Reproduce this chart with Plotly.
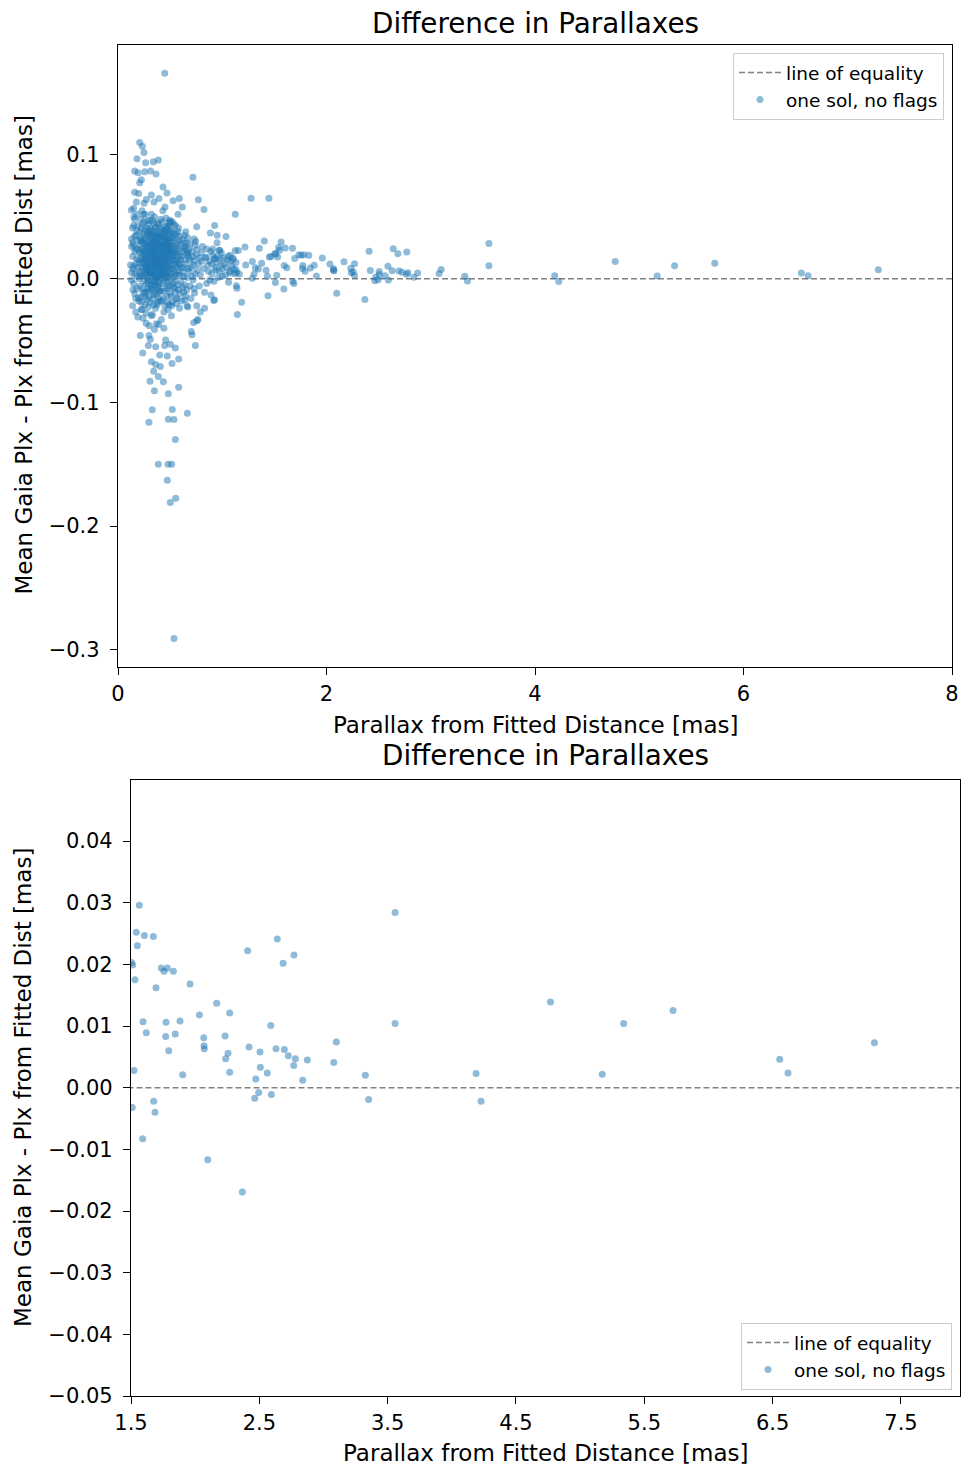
import plotly.graph_objects as go

# ---------------- data ----------------
# points with parallax >= 1.5 mas (visible in both panels)
far_points = [
    (1.565, 0.0296), (1.541, 0.0252), (1.604, 0.0247), (1.674, 0.0245), (1.549, 0.0230),
    (1.505, 0.0203), (1.513, 0.0199), (1.531, 0.0175), (1.736, 0.0194), (1.757, 0.0189),
    (1.783, 0.0194), (1.830, 0.0189), (1.695, 0.0162), (1.960, 0.0168), (2.409, 0.0222),
    (2.640, 0.0241), (2.770, 0.0215), (2.685, 0.0202), (2.168, 0.0137), (2.033, 0.0118),
    (2.269, 0.0121), (1.594, 0.0107), (1.773, 0.0106), (1.882, 0.0108), (1.619, 0.0089),
    (1.770, 0.0083), (1.845, 0.0087), (1.794, 0.0060), (2.067, 0.0081), (2.069, 0.0068),
    (2.071, 0.0063), (2.589, 0.0101), (2.233, 0.0084), (2.256, 0.0056), (2.238, 0.0047),
    (2.269, 0.0025), (2.420, 0.0066), (2.505, 0.0058), (2.508, 0.0033), (2.562, 0.0024),
    (2.472, 0.0014), (2.630, 0.0063), (2.695, 0.0062), (2.726, 0.0052), (2.781, 0.0047),
    (2.768, 0.0036), (2.874, 0.0045), (2.838, 0.0012), (3.100, 0.0074), (3.080, 0.0041),
    (3.326, 0.0020), (3.352, -0.0019), (3.558, 0.0284), (3.558, 0.0104), (4.189, 0.0023),
    (4.228, -0.0022), (1.523, 0.0028), (1.903, 0.0021), (1.510, -0.0032), (1.677, -0.0022),
    (1.687, -0.0040), (1.591, -0.0083), (2.098, -0.0117), (2.368, -0.0169), (2.464, -0.0017),
    (2.495, -0.0008), (2.594, -0.0011), (4.769, 0.0139), (5.172, 0.0022), (5.339, 0.0104),
    (5.724, 0.0125), (6.555, 0.0046), (6.620, 0.0024), (7.293, 0.0073),
]

# upper tail of the cluster
upper_points = [
    (0.448, 0.166), (0.208, 0.110), (0.233, 0.107), (0.249, 0.102), (0.182, 0.097),
    (0.387, 0.096), (0.339, 0.0945), (0.265, 0.0937), (0.160, 0.087), (0.192, 0.0856),
    (0.256, 0.0864), (0.313, 0.087), (0.365, 0.0847), (0.719, 0.082), (0.224, 0.080),
    (0.208, 0.0775), (0.432, 0.074), (0.160, 0.0699), (0.198, 0.0688), (0.320, 0.0677),
    (0.470, 0.0693), (0.588, 0.0648), (0.771, 0.0637), (0.393, 0.0648), (0.176, 0.062),
    (0.272, 0.064), (0.345, 0.062), (0.528, 0.063), (0.825, 0.056), (1.125, 0.052),
    (0.617, 0.058), (0.451, 0.058), (0.576, 0.052), (0.128, 0.0556), (0.153, 0.050),
    (0.496, 0.0472), (1.276, 0.065), (1.448, 0.065), (0.927, 0.043), (0.755, 0.042),
]

# sparser points between 0.6 and 1.5 mas
mid_points = [
    (0.886, 0.037), (0.952, 0.035), (1.036, 0.034), (0.732, 0.032), (0.745, 0.030),
    (0.633, 0.029), (0.950, 0.029), (0.908, 0.024), (0.975, 0.0227), (1.125, 0.0227),
    (0.758, 0.0235), (0.671, 0.021), (0.722, 0.018), (0.784, 0.0167), (0.844, 0.0173),
    (0.991, 0.021), (1.055, 0.018), (0.927, 0.016), (1.218, 0.0255), (1.154, 0.0227),
    (1.356, 0.0246), (1.404, 0.0305), (1.074, 0.019), (1.106, 0.0154), (1.132, 0.013),
    (1.225, 0.011), (1.289, 0.0138), (1.378, 0.0124), (1.452, 0.0176), (1.468, 0.018),
    (1.317, 0.0089), (1.074, 0.0046), (1.132, 0.0073), (1.138, 0.005), (1.164, 0.0038),
    (1.289, 0.0003), (1.305, 0.0038), (1.346, 0.0078), (1.420, 0.0067), (1.433, 0.0019),
    (1.439, -0.0138), (1.186, -0.019), (1.135, -0.0057), (1.141, -0.0078), (1.145, -0.029),
    (0.892, -0.0132), (0.918, -0.0176), (0.831, -0.024), (0.790, -0.027), (0.767, -0.033),
    (0.755, -0.022), (0.662, -0.022), (0.735, -0.0116), (0.640, -0.017), (0.670, -0.023),
    (0.927, -0.017),
]

# lower tail of the cluster
lower_points = [
    (0.703, -0.0427), (0.710, -0.0453), (0.742, -0.054), (0.726, -0.0354), (0.758, -0.034),
    (0.214, -0.046), (0.297, -0.046), (0.310, -0.049), (0.291, -0.054), (0.237, -0.060),
    (0.361, -0.055), (0.457, -0.0495), (0.502, -0.053), (0.550, -0.056), (0.448, -0.054),
    (0.400, -0.0618), (0.473, -0.0626), (0.320, -0.0672), (0.582, -0.065), (0.361, -0.0694),
    (0.406, -0.071), (0.518, -0.0686), (0.342, -0.0748), (0.387, -0.079), (0.435, -0.0834),
    (0.307, -0.083), (0.349, -0.0907), (0.483, -0.093), (0.582, -0.0877), (0.329, -0.106),
    (0.521, -0.1058), (0.297, -0.116), (0.483, -0.1136), (0.537, -0.1139), (0.665, -0.1088),
    (0.550, -0.130), (0.387, -0.150), (0.480, -0.150), (0.515, -0.150), (0.473, -0.163),
    (0.553, -0.1776), (0.502, -0.181), (0.537, -0.291), (0.368, -0.0364), (0.240, -0.032),
    (0.416, -0.033), (0.512, -0.030), (0.320, -0.030), (0.300, -0.038), (0.350, -0.041),
    (0.390, -0.037), (0.440, -0.040), (0.270, -0.036),
]

# dense core of the cluster
core_points = [
    (0.13, 0.032), (0.14, 0.018), (0.13, 0.005), (0.15, -0.004), (0.14, 0.041), (0.16, 0.048),
    (0.15, 0.027), (0.17, 0.012), (0.16, -0.012), (0.14, -0.022), (0.17, 0.035), (0.18, 0.002),
    (0.19, 0.024), (0.18, -0.008), (0.19, 0.043), (0.20, 0.015), (0.20, -0.018), (0.13, 0.026),
    (0.15, 0.057), (0.17, -0.027), (0.19, 0.031), (0.20, 0.006), (0.16, 0.022), (0.18, 0.052),
    (0.12, 0.011), (0.13, -0.001), (0.19, -0.031), (0.15, 0.010),
    (0.21, 0.038), (0.22, 0.021), (0.23, 0.009), (0.21, -0.006), (0.24, 0.029), (0.22, -0.015),
    (0.25, 0.046), (0.23, 0.055), (0.26, 0.017), (0.24, 0.003), (0.27, -0.011), (0.25, 0.024),
    (0.28, 0.035), (0.26, -0.021), (0.29, 0.012), (0.27, 0.041), (0.28, 0.001), (0.29, -0.004),
    (0.30, 0.026), (0.21, 0.013), (0.22, 0.048), (0.23, -0.025), (0.24, 0.036), (0.25, 0.007),
    (0.26, 0.031), (0.27, 0.019), (0.28, -0.017), (0.29, 0.044), (0.30, -0.009), (0.21, 0.027),
    (0.23, 0.016), (0.25, -0.002), (0.27, 0.004), (0.29, 0.022), (0.22, 0.033), (0.24, -0.011),
    (0.26, 0.052), (0.28, 0.014), (0.30, 0.039), (0.26, 0.009), (0.28, 0.027), (0.24, 0.019),
    (0.22, 0.002), (0.30, 0.005), (0.27, -0.028), (0.25, 0.061), (0.29, -0.023),
    (0.31, 0.018), (0.32, 0.031), (0.33, 0.004), (0.34, -0.013), (0.35, 0.025), (0.36, 0.042),
    (0.37, 0.011), (0.38, -0.006), (0.39, 0.020), (0.40, 0.034), (0.31, -0.019), (0.32, 0.009),
    (0.33, 0.047), (0.34, 0.022), (0.35, -0.002), (0.36, 0.015), (0.37, 0.038), (0.38, 0.027),
    (0.39, -0.016), (0.40, 0.006), (0.31, 0.041), (0.32, -0.008), (0.33, 0.026), (0.34, 0.037),
    (0.35, 0.012), (0.36, -0.024), (0.37, 0.001), (0.38, 0.045), (0.39, 0.008), (0.40, -0.011),
    (0.31, 0.005), (0.32, 0.052), (0.33, -0.029), (0.34, 0.003), (0.35, 0.031), (0.36, 0.008),
    (0.37, -0.013), (0.38, 0.016), (0.39, 0.033), (0.40, 0.021), (0.32, 0.017), (0.34, 0.029),
    (0.36, 0.023), (0.38, 0.002), (0.35, 0.050), (0.37, 0.024), (0.33, 0.013), (0.39, 0.044),
    (0.31, 0.028), (0.36, -0.005), (0.40, 0.012), (0.34, -0.021), (0.38, -0.019), (0.33, 0.036),
    (0.37, 0.029), (0.35, 0.019), (0.39, -0.003), (0.32, -0.002),
    (0.41, 0.026), (0.42, 0.013), (0.43, -0.004), (0.44, 0.039), (0.45, 0.018), (0.46, 0.005),
    (0.47, -0.014), (0.48, 0.027), (0.49, 0.009), (0.50, 0.033), (0.41, -0.010), (0.42, 0.040),
    (0.43, 0.022), (0.44, 0.001), (0.45, -0.022), (0.46, 0.031), (0.47, 0.016), (0.48, -0.003),
    (0.49, 0.045), (0.50, 0.014), (0.41, 0.008), (0.42, -0.018), (0.43, 0.034), (0.44, 0.019),
    (0.45, 0.028), (0.46, -0.008), (0.47, 0.042), (0.48, 0.011), (0.49, -0.021), (0.50, 0.002),
    (0.41, 0.048), (0.43, 0.011), (0.45, 0.006), (0.47, 0.024), (0.49, 0.017), (0.42, 0.029),
    (0.44, -0.027), (0.46, 0.049), (0.48, 0.035), (0.50, -0.012), (0.43, 0.055), (0.45, 0.038),
    (0.47, 0.003), (0.42, 0.002), (0.44, 0.025), (0.46, 0.014), (0.48, 0.019), (0.41, 0.017),
    (0.49, 0.027), (0.44, 0.009),
    (0.51, 0.022), (0.52, 0.008), (0.53, -0.007), (0.54, 0.031), (0.55, 0.015), (0.56, 0.003),
    (0.57, -0.016), (0.58, 0.024), (0.59, 0.011), (0.60, -0.002), (0.51, 0.039), (0.52, -0.019),
    (0.53, 0.027), (0.54, 0.012), (0.55, -0.011), (0.56, 0.036), (0.57, 0.019), (0.58, 0.006),
    (0.59, -0.024), (0.60, 0.028), (0.51, 0.004), (0.52, 0.046), (0.53, 0.016), (0.54, -0.003),
    (0.55, 0.043), (0.56, 0.021), (0.57, 0.009), (0.58, -0.009), (0.59, 0.034), (0.60, 0.015),
    (0.52, 0.026), (0.54, 0.021), (0.56, -0.020), (0.58, 0.041), (0.53, 0.038), (0.55, 0.004),
    (0.57, 0.029), (0.59, 0.003), (0.51, -0.014), (0.53, 0.001),
    (0.61, 0.018), (0.62, 0.005), (0.63, -0.011), (0.64, 0.026), (0.65, 0.012), (0.66, 0.001),
    (0.67, 0.033), (0.68, 0.017), (0.69, -0.006), (0.70, 0.009), (0.71, 0.022), (0.72, -0.001),
    (0.73, 0.014), (0.74, 0.027), (0.62, 0.032), (0.64, -0.005), (0.66, 0.020), (0.68, 0.006),
    (0.70, -0.016), (0.72, 0.011), (0.74, 0.004), (0.61, -0.018), (0.63, 0.024), (0.65, 0.038),
    (0.67, 0.008), (0.69, 0.015), (0.71, 0.002), (0.73, -0.008), (0.75, 0.019), (0.63, 0.009),
    (0.65, -0.014), (0.67, 0.019), (0.69, 0.028),
    (0.77, 0.012), (0.79, 0.003), (0.80, 0.021), (0.82, 0.008), (0.84, 0.017), (0.85, -0.004),
    (0.86, 0.011), (0.88, 0.014), (0.90, 0.004), (0.91, 0.019), (0.93, 0.009), (0.95, 0.013),
    (0.96, 0.001), (0.98, 0.016), (1.00, 0.008), (1.02, 0.012), (1.03, 0.003), (1.05, 0.015),
    (1.07, 0.006), (1.09, 0.010), (1.12, 0.004), (0.78, -0.006), (0.81, 0.026), (0.83, -0.011),
    (0.87, 0.006), (0.89, 0.022), (0.92, -0.002), (0.94, 0.007), (0.97, 0.023), (0.99, 0.011),
    (1.01, 0.017), (1.04, 0.009), (1.06, -0.003), (1.08, 0.014), (1.11, 0.008), (0.76, 0.007),
    (0.80, 0.014), (0.85, 0.024), (0.90, 0.012), (0.95, 0.018), (1.00, 0.002), (1.10, 0.017),
    (0.88, -0.001), (0.93, 0.016), (0.97, 0.006),
    (0.30, 0.015), (0.32, 0.024), (0.34, 0.010), (0.36, 0.000), (0.38, 0.009), (0.40, 0.027),
    (0.42, 0.020), (0.44, 0.014), (0.46, 0.022), (0.48, 0.004), (0.50, 0.020), (0.52, 0.015),
    (0.35, 0.006), (0.37, 0.018), (0.39, 0.013), (0.41, 0.000), (0.43, 0.017), (0.45, 0.011),
    (0.47, 0.009), (0.31, 0.011), (0.33, 0.019), (0.29, 0.030), (0.27, 0.012), (0.25, 0.015),
    (0.23, 0.024), (0.36, 0.030), (0.42, 0.008), (0.46, 0.026), (0.40, -0.004), (0.34, -0.006),
    (0.44, -0.010), (0.38, 0.036), (0.48, -0.008), (0.52, 0.033), (0.30, -0.014), (0.28, 0.007),
    (0.26, 0.002), (0.50, 0.026), (0.54, 0.006), (0.56, 0.011),
    (0.144, -0.009), (0.198, -0.0157), (0.224, -0.025), (0.480, -0.025),
    (0.205, 0.021), (0.215, 0.004), (0.225, 0.041), (0.235, -0.008), (0.245, 0.012),
    (0.255, 0.033), (0.265, -0.015), (0.275, 0.026), (0.285, 0.047), (0.295, 0.006),
    (0.305, 0.033), (0.315, -0.005), (0.325, 0.039), (0.335, 0.021), (0.345, 0.015),
    (0.355, -0.011), (0.365, 0.035), (0.375, 0.006), (0.385, 0.022), (0.395, 0.027),
    (0.405, 0.041), (0.415, 0.004), (0.425, 0.035), (0.435, 0.028), (0.445, 0.005),
    (0.455, 0.023), (0.465, -0.003), (0.475, 0.031), (0.485, 0.043), (0.495, -0.006),
    (0.505, 0.029), (0.515, 0.011), (0.525, -0.004), (0.535, 0.019), (0.545, 0.036),
    (0.555, 0.024), (0.565, 0.015), (0.575, -0.005), (0.585, 0.031), (0.595, 0.019),
    (0.215, 0.031), (0.235, 0.044), (0.255, -0.012), (0.275, 0.009), (0.295, 0.036),
    (0.315, 0.023), (0.335, -0.016), (0.355, 0.041), (0.375, -0.021), (0.395, 0.016),
    (0.415, 0.031), (0.435, -0.016), (0.455, 0.042), (0.475, -0.019), (0.495, 0.038),
    (0.515, -0.022), (0.535, 0.044), (0.555, -0.016), (0.575, 0.038), (0.595, -0.012),
    (0.205, 0.000), (0.225, -0.019), (0.245, 0.052), (0.265, 0.023), (0.285, -0.008),
    (0.305, 0.047), (0.325, 0.002), (0.345, 0.045), (0.365, 0.019), (0.385, -0.009),
    (0.405, -0.018), (0.425, 0.046), (0.445, 0.032), (0.465, 0.037), (0.485, 0.001),
    (0.505, 0.046), (0.525, 0.033), (0.545, -0.008), (0.565, 0.026), (0.585, 0.013),
    (0.14, 0.029), (0.16, 0.034), (0.18, 0.016), (0.17, 0.024), (0.15, 0.043),
    (0.16, 0.004), (0.18, 0.039), (0.14, 0.008), (0.17, -0.016), (0.19, 0.009),
    (0.62, 0.022), (0.64, 0.015), (0.66, 0.029), (0.63, 0.002), (0.65, 0.024),
    (0.61, 0.009), (0.68, 0.024), (0.62, -0.007), (0.64, 0.035), (0.66, -0.009),
    (0.335, 0.008), (0.375, 0.013), (0.415, 0.019), (0.455, 0.016), (0.495, 0.022),
    (0.355, 0.027), (0.395, 0.002), (0.435, 0.009), (0.475, 0.013), (0.515, 0.019),
    (0.262, 0.028), (0.278, 0.018), (0.292, -0.001), (0.308, 0.021), (0.322, 0.013),
    (0.338, 0.033), (0.352, 0.003), (0.368, 0.027), (0.382, 0.011), (0.398, 0.038),
    (0.412, 0.023), (0.428, 0.005), (0.442, 0.021), (0.458, 0.029), (0.472, 0.007),
    (0.488, 0.024), (0.258, 0.039), (0.272, -0.004), (0.288, 0.021), (0.302, 0.009),
    (0.318, 0.035), (0.332, -0.009), (0.348, 0.024), (0.362, 0.012), (0.378, 0.033),
    (0.392, -0.008), (0.408, 0.015), (0.422, 0.026), (0.438, 0.036), (0.452, 0.001),
    (0.468, 0.019), (0.482, 0.030), (0.248, 0.022), (0.268, 0.006), (0.298, 0.018),
    (0.328, 0.029), (0.358, 0.017), (0.388, 0.030), (0.418, 0.011), (0.448, 0.027),
    (0.478, 0.040), (0.508, 0.008), (0.238, 0.013), (0.282, 0.038), (0.342, -0.003),
    (0.402, 0.003), (0.462, 0.033), (0.522, 0.022), (0.228, 0.030), (0.318, 0.004),
]

equality_x = [0, 8]
equality_y = [0, 0]

all_points = far_points + upper_points + mid_points + lower_points + core_points
plx_fit = [p[0] for p in all_points]
plx_diff = [p[1] for p in all_points]

top_yticks = [-0.3, -0.2, -0.1, 0.0, 0.1]
top_xticks = [0, 2, 4, 6, 8]
bot_yticks = [-0.05, -0.04, -0.03, -0.02, -0.01, 0.0, 0.01, 0.02, 0.03, 0.04]
bot_xticks = [1.5, 2.5, 3.5, 4.5, 5.5, 6.5, 7.5]

title_text = "Difference in Parallaxes"
xlabel = "Parallax from Fitted Distance [mas]"
ylabel = "Mean Gaia Plx - Plx from Fitted Dist [mas]"
line_name = "line of equality"
scatter_name = "one sol, no flags"

# ---------------- figure ----------------
W, H = 962, 1470
FONT = "DejaVu Sans"
BLUE = "#1f77b4"

fig = go.Figure()

for xa, ya, leg in (("x", "y", "legend"), ("x2", "y2", "legend2")):
    fig.add_trace(go.Scatter(
        x=equality_x, y=equality_y, mode="lines", name=line_name,
        line=dict(color="#808080", width=1.5, dash="6px,3px"),
        xaxis=xa, yaxis=ya, legend=leg, hoverinfo="skip"))
    fig.add_trace(go.Scatter(
        x=plx_fit, y=plx_diff, mode="markers", name=scatter_name,
        marker=dict(color=BLUE, size=7, opacity=0.5, line=dict(width=0)),
        xaxis=xa, yaxis=ya, legend=leg, cliponaxis=True))

def px_x(p):
    return p / W

def px_y(p):
    return 1 - p / H

axis_common = dict(showgrid=False, zeroline=False, showline=True, mirror=True,
                   linecolor="black", linewidth=1.3, ticks="outside", ticklen=7,
                   tickwidth=1.3, tickcolor="black", automargin=False,
                   tickfont=dict(family=FONT, size=21, color="black"))

fig.update_layout(
    template="none",
    width=W, height=H,
    margin=dict(l=0, r=0, t=0, b=0, pad=0),
    paper_bgcolor="white", plot_bgcolor="white",
    font=dict(family=FONT, color="black"),
    xaxis=dict(domain=[px_x(118), px_x(952)], range=[0, 8], tickvals=top_xticks,
               tickformat="d", anchor="y", ticklabelstandoff=1, **axis_common),
    yaxis=dict(domain=[px_y(666.7), px_y(44.5)], range=[-0.3137, 0.1893],
               tickvals=top_yticks, tickformat=".1f", anchor="x",
               ticklabelstandoff=6, **axis_common),
    xaxis2=dict(domain=[px_x(131), px_x(959.5)], range=[1.5, 7.956], tickvals=bot_xticks,
                tickformat=".1f", anchor="y2", ticklabelstandoff=1, **axis_common),
    yaxis2=dict(domain=[px_y(1396), px_y(780)], range=[-0.05, 0.0499],
                tickvals=bot_yticks, tickformat=".2f", anchor="x2",
                ticklabelstandoff=6, **axis_common),
    legend=dict(x=px_x(944), y=px_y(53), xanchor="right", yanchor="top",
                bgcolor="rgba(255,255,255,0.8)", bordercolor="#cccccc", borderwidth=1,
                itemwidth=42, tracegroupgap=0,
                font=dict(family=FONT, size=18.5, color="black")),
    legend2=dict(x=px_x(952), y=px_y(1390), xanchor="right", yanchor="bottom",
                 bgcolor="rgba(255,255,255,0.8)", bordercolor="#cccccc", borderwidth=1,
                 itemwidth=42, tracegroupgap=0,
                 font=dict(family=FONT, size=18.5, color="black")),
    showlegend=True,
)

def ann(text, x, y, size, angle=0):
    fig.add_annotation(text=text, x=px_x(x), y=px_y(y), xref="paper", yref="paper",
                       showarrow=False, xanchor="center", yanchor="middle",
                       textangle=angle, font=dict(family=FONT, size=size, color="black"))

ann(title_text, 535, 23, 27.8)
ann(title_text, 545.5, 756, 27.8)
ann(xlabel, 535, 725, 23)
ann(xlabel, 545.5, 1453, 23)
ann(ylabel, 23, 355.5, 23, -90)
ann(ylabel, 23, 1088, 23, -90)

fig.write_html(
    "out.html",
    config={"displayModeBar": False},
    post_script="document.body.style.margin='0';document.body.style.padding='0';",
)
